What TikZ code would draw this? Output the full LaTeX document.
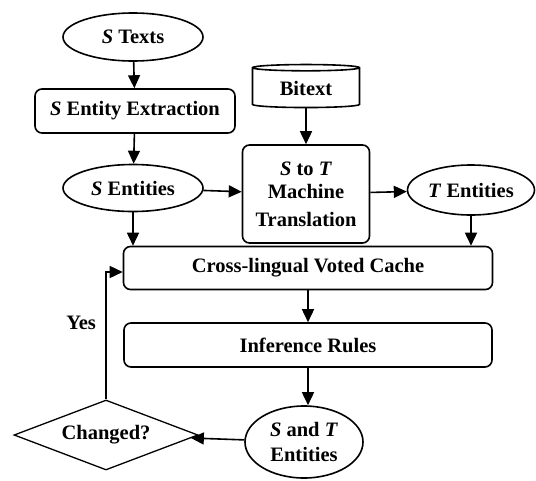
\documentclass[tikz,border=0pt]{standalone}
\usepackage{fontspec}
\setmainfont{Liberation Serif}
\usepackage{tikz}
\usetikzlibrary{shapes,shapes.geometric,arrows.meta,calc,positioning}
\tikzset{
  every node/.style={font=\fontsize{20.5}{23}\selectfont\bfseries},
  ell/.style={ellipse, draw, line width=1.6pt, inner sep=0pt},
  box/.style={rectangle, draw, rounded corners=7pt, line width=1.6pt, 
  inner sep=0pt, text centered},
  db/.style={cylinder, draw, shape border rotate=90, aspect=0.12, 
  line width=1.6pt, inner sep=0pt},
  test/.style={diamond, draw, aspect=2.6, line width=1.3pt, inner sep=0pt},
  arr/.style={-{Triangle[length=13pt,width=12pt]}, line width=1.6pt}
}

\begin{document}
\begin{tikzpicture}[x=1pt,y=-1pt]
\useasboundingbox (0,0) rectangle (536,480);
\node[ell,minimum width=140,minimum height=48] (stext) at (133,37) 
	{\textit{S} Texts};
\node[box,minimum width=200,minimum height=44] (extr) at (135,111) 
	{\textit{S} Entity Extraction};
\node[ell,minimum width=140,minimum height=47] (sent) at (133,188) 
	{\textit{S} Entities};
\node[db,minimum width=107,minimum height=43] (bitext) at (306,88) {Bitext};
\node[box,minimum width=127,minimum height=98,align=center] (mt) at (306,194)
	{\textit{S} to \textit{T}\\[0pt] Machine\\[5pt] Translation};
\node[ell,minimum width=127,minimum height=50] (tent) at (471,190) 
	{\textit{T} Entities};
\node[box,minimum width=369,minimum height=43] (cache) at (308,268) 
	{Cross-lingual Voted Cache};
\node[box,minimum width=368,minimum height=44] (inf) at (308,345) 
	{Inference Rules};
\node[ell,minimum width=118,minimum height=72,align=center] (st) at (304,442)
	{\textit{S} and \textit{T}\\[2pt] Entities};
\node[test,minimum width=184,minimum height=70] (chg) at (106,435) 
	{Changed?};

\draw[arr] (stext) -- (extr);
\draw[arr] (extr) -- (sent);
\draw[arr] (bitext) -- (mt);
\draw[arr] (sent) -- (mt);
\draw[arr] (mt) -- (tent);
\draw[arr] (sent.south) -- (sent.south |- cache.north);
\draw[arr] (tent.south) -- (tent.south |- cache.north);
\draw[arr] (cache) -- (inf);
\draw[arr] (inf.south) -- (inf.south |- st.north);
\draw[arr] (st) -- (chg);
\draw[arr] (chg.north) |- node[pos=0.3,left=6pt] {Yes} 
	($(cache.west)+(0,4)$);
\end{tikzpicture}
\end{document}
